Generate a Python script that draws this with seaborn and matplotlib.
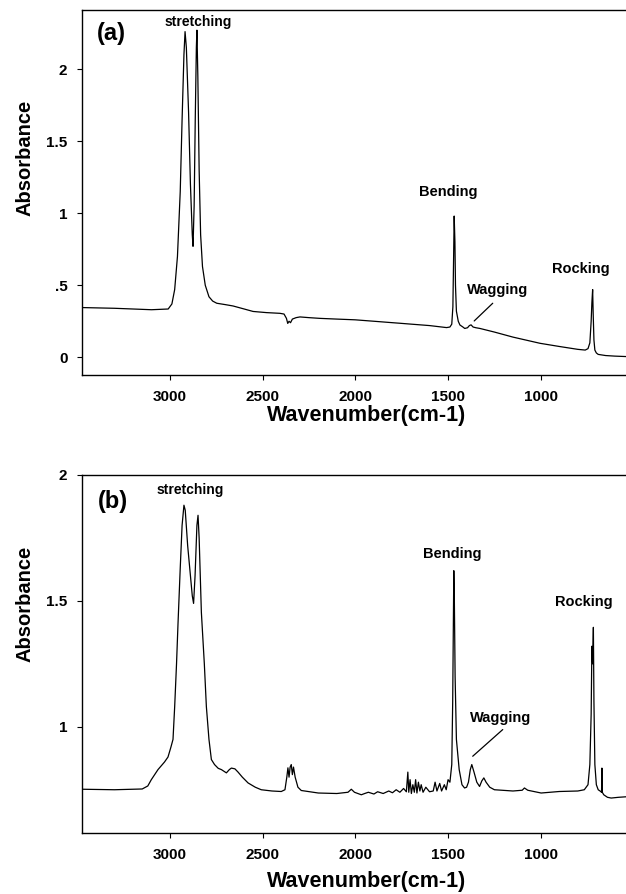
import matplotlib
matplotlib.use("Agg")
import matplotlib.pyplot as plt
import seaborn as sns
import pandas as pd

# ---------------- data ----------------
wn_a = [3475, 3300, 3100, 3010, 2990, 2975, 2960, 2945, 2935, 2925, 2919, 2912, 2900,
        2890, 2880, 2876, 2870, 2864, 2858, 2855, 2850, 2843, 2835, 2825, 2810, 2790,
        2770, 2748, 2700, 2660, 2600, 2552, 2480, 2407, 2385, 2372, 2365, 2358, 2350,
        2340, 2320, 2299, 2250, 2191, 2100, 2002, 1900, 1800, 1759, 1700, 1600, 1508,
        1490, 1480, 1474, 1470, 1467, 1463, 1460, 1455, 1445, 1436, 1420, 1410, 1395,
        1385, 1376, 1365, 1350, 1328, 1250, 1150, 1004, 900, 800, 760, 745, 735, 728,
        724, 720, 717, 713, 708, 700, 690, 650, 600, 540]
abs_a = [0.345, 0.34, 0.33, 0.335, 0.37, 0.47, 0.7, 1.15, 1.65, 2.1, 2.26, 2.15, 1.7,
         1.2, 0.85, 0.77, 1.05, 1.65, 2.15, 2.27, 1.95, 1.3, 0.85, 0.63, 0.5, 0.42,
         0.39, 0.375, 0.365, 0.356, 0.335, 0.318, 0.31, 0.305, 0.30, 0.27, 0.235, 0.25, 0.24,
         0.265, 0.275, 0.28, 0.275, 0.27, 0.265, 0.26, 0.25, 0.24, 0.236, 0.23, 0.22, 0.206,
         0.21, 0.23, 0.35, 0.7, 0.98, 0.8, 0.5, 0.32, 0.25, 0.224, 0.21, 0.20, 0.205,
         0.22, 0.225, 0.21, 0.205, 0.20, 0.175, 0.14, 0.097, 0.075, 0.055, 0.05, 0.06, 0.1, 0.25,
         0.38, 0.47, 0.3, 0.12, 0.05, 0.03, 0.02, 0.012, 0.008, 0.005]

wn_b = [3475, 3300, 3150, 3120, 3101, 3065, 3030, 3011, 2995, 2984, 2975, 2965, 2957,
        2945, 2935, 2925, 2918, 2905, 2890, 2880, 2873, 2865, 2855, 2849, 2843, 2831,
        2815, 2804, 2790, 2777, 2760, 2740, 2723, 2696, 2680, 2669, 2650, 2633, 2610,
        2579, 2540, 2508, 2450, 2400, 2380, 2370, 2364, 2358, 2352, 2346, 2340, 2334,
        2325, 2310, 2292, 2200, 2100, 2040, 2022, 2005, 1968, 1950, 1930, 1900, 1880,
        1850, 1820, 1800, 1780, 1760, 1740, 1725, 1717, 1712, 1705, 1698, 1690, 1682,
        1675, 1668, 1660, 1652, 1645, 1635, 1620, 1600, 1580, 1570, 1560, 1545, 1535,
        1520, 1510, 1500, 1490, 1480, 1475, 1471, 1469, 1466, 1462, 1455, 1440, 1425,
        1411, 1400, 1390, 1380, 1372, 1360, 1345, 1330, 1318, 1307, 1295, 1275, 1250,
        1150, 1100, 1088, 1070, 998, 900, 800, 765, 745, 735, 728, 724, 720, 716, 713,
        708, 700, 690, 680, 672, 670, 668, 660, 640, 620, 580, 540]
abs_b = [0.752, 0.75, 0.753, 0.765, 0.79, 0.83, 0.86, 0.88, 0.92, 0.95, 1.08, 1.25, 1.41,
         1.63, 1.8, 1.88, 1.86, 1.72, 1.6, 1.52, 1.49, 1.6, 1.8, 1.84, 1.75, 1.455,
         1.25, 1.08, 0.95, 0.87, 0.85, 0.835, 0.83, 0.817, 0.83, 0.836, 0.833, 0.82, 0.8,
         0.777, 0.76, 0.75, 0.745, 0.743, 0.75, 0.8, 0.837, 0.80, 0.84, 0.85, 0.81, 0.84,
         0.80, 0.76, 0.747, 0.737, 0.735, 0.74, 0.752, 0.74, 0.73, 0.735, 0.74, 0.733, 0.742,
         0.735, 0.745, 0.738, 0.75, 0.74, 0.755, 0.742, 0.82, 0.74, 0.79, 0.735, 0.77, 0.74,
         0.79, 0.737, 0.78, 0.745, 0.77, 0.74, 0.76, 0.742, 0.745, 0.78, 0.745, 0.775, 0.745,
         0.77, 0.75, 0.79, 0.78, 0.85, 1.1, 1.45, 1.62, 1.5, 1.2, 0.95, 0.83, 0.77,
         0.757, 0.76, 0.78, 0.83, 0.85, 0.82, 0.78, 0.763, 0.785, 0.797, 0.78, 0.76, 0.75,
         0.745, 0.748, 0.757, 0.748, 0.737, 0.743, 0.745, 0.75, 0.77, 0.85, 1.05, 1.32, 1.25, 1.395, 1.1,
         0.85, 0.77, 0.75, 0.745, 0.74, 0.836, 0.74, 0.73, 0.72, 0.717, 0.72, 0.722]

xticks = [3000, 2500, 2000, 1500, 1000]
yticks_a = [0, 0.5, 1, 1.5, 2]
ylabels_a = ["0", ".5", "1", "1.5", "2"]
yticks_b = [1, 1.5, 2]
ylabels_b = ["1", "1.5", "2"]

# ---------------- style ----------------
sns.set_theme(style="ticks")
plt.rcParams["font.family"] = ["Liberation Sans", "DejaVu Sans"]
plt.rcParams["font.weight"] = "bold"
plt.rcParams["text.color"] = "black"
plt.rcParams["axes.labelcolor"] = "black"
plt.rcParams["xtick.color"] = "black"
plt.rcParams["ytick.color"] = "black"
plt.rcParams["xtick.labelcolor"] = "black"
plt.rcParams["ytick.labelcolor"] = "black"

fig = plt.figure(figsize=(6.26, 8.94), dpi=100)
ax_a = fig.add_axes([82 / 626, 1 - 375 / 894, 1 - 82 / 626, (375 - 10) / 894])
ax_b = fig.add_axes([82 / 626, 1 - 833.3 / 894, 1 - 82 / 626, (833.3 - 475) / 894])

df_a = pd.DataFrame({"wn": wn_a, "A": abs_a})
df_b = pd.DataFrame({"wn": wn_b, "A": abs_b})
sns.lineplot(data=df_a, x="wn", y="A", sort=False, estimator=None, color="black",
             linewidth=0.9, ax=ax_a)
sns.lineplot(data=df_b, x="wn", y="A", sort=False, estimator=None, color="black",
             linewidth=0.9, ax=ax_b)


def style(ax, yt, yl, ylim, ylab_y, xlab_y):
    ax.set_xlim(3475, 540)
    ax.set_ylim(*ylim)
    ax.set_xticks(xticks)
    ax.set_xticklabels([str(t) for t in xticks], fontsize=11, fontweight="bold", color="black")
    ax.set_yticks(yt)
    ax.set_yticklabels(yl, fontsize=11, fontweight="bold", color="black")
    ax.tick_params(direction="out", length=3.5, width=0.8, color="black", pad=7)
    for s in ["left", "bottom", "top"]:
        ax.spines[s].set_visible(True)
        ax.spines[s].set_color("black")
        ax.spines[s].set_linewidth(1.0)
    ax.spines["right"].set_visible(False)
    ax.set_xlabel("Wavenumber(cm-1)", fontsize=15.5, fontweight="bold", color="black")
    ax.set_ylabel("Absorbance", fontsize=14.5, fontweight="bold", color="black")
    ax.xaxis.set_label_coords(0.524, xlab_y)
    ax.yaxis.set_label_coords(-0.088, ylab_y)
    ax.grid(False)


style(ax_a, yticks_a, ylabels_a, (-0.123, 2.41), 0.595, -0.083)
style(ax_b, yticks_b, ylabels_b, (0.577, 2.0), 0.64, -0.106)

kw = dict(fontweight="bold", ha="center", va="center", color="black")
# annotations panel (a)
ax_a.text(3314, 2.25, "(a)", fontsize=17, **kw)
ax_a.text(2849, 2.33, "stretching", fontsize=10, **kw)
ax_a.text(1500, 1.148, "Bending", fontsize=10.5, **kw)
ax_a.text(1231, 0.467, "Wagging", fontsize=10.5, **kw)
ax_a.text(785, 0.611, "Rocking", fontsize=10.5, **kw)
ax_a.plot([1259, 1359], [0.375, 0.252], color="black", linewidth=0.9)

# annotations panel (b)
ax_b.text(3307, 1.894, "(b)", fontsize=17, **kw)
ax_b.text(2891, 1.94, "stretching", fontsize=10, **kw)
ax_b.text(1480, 1.688, "Bending", fontsize=10.5, **kw)
ax_b.text(1214, 1.036, "Wagging", fontsize=10.5, **kw)
ax_b.text(765, 1.495, "Rocking", fontsize=10.5, **kw)
ax_b.plot([1205, 1367], [0.989, 0.883], color="black", linewidth=0.9)

fig.savefig("out.png", dpi=100)
